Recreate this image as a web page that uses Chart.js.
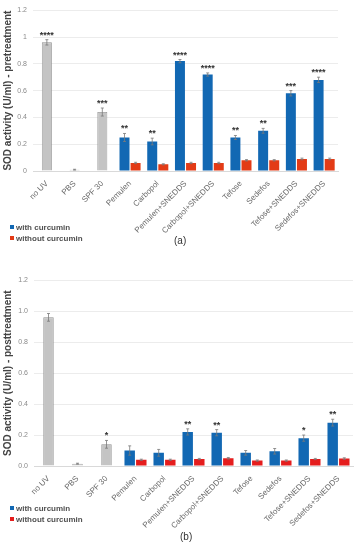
<!DOCTYPE html>
<html>
<head>
    <title>SOD activity</title>
    <script src="https://cdn.jsdelivr.net/npm/chart.js@4.4.1/dist/chart.umd.min.js"></script>
    <style>
        body {
            margin: 0;
            background: #fff;
            font-family: "Liberation Sans", Arial, sans-serif;
        }
        .panel {
            position: absolute;
            left: 0;
            width: 362px;
        }
        .legend {
            position: absolute;
            left: 10px;
            font-size: 8px;
            font-weight: bold;
            color: #505050;
            line-height: 11px;
        }
        .legend span.sq {
            display: inline-block;
            width: 4px;
            height: 4px;
            margin-right: 2px;
            vertical-align: 1px;
        }
        .caption {
            position: absolute;
            font-size: 10px;
            color: #333;
        }
    </style>
</head>
<body>
<div class="panel" style="top:0;height:238px"><canvas id="chartA"></canvas></div>
<div class="legend" style="top:222px">
    <div><span class="sq" style="background:#1268b3"></span>with curcumin</div>
    <div><span class="sq" style="background:#e33b16"></span>without curcumin</div>
</div>
<div class="caption" style="left:174px;top:235px">(a)</div>

<div class="panel" style="top:270px;height:266px"><canvas id="chartB"></canvas></div>
<div class="legend" style="top:503px">
    <div><span class="sq" style="background:#1268b3"></span>with curcumin</div>
    <div><span class="sq" style="background:#e51d1d"></span>without curcumin</div>
</div>
<div class="caption" style="left:180px;top:531px">(b)</div>

<script>
    const categories = ['no UV', 'PBS', 'SPF 30', 'Pemulen', 'Carbopol', 'Pemulen+SNEDDS',
        'Carbopol+SNEDDS', 'Tefose', 'Sedefos', 'Tefose+SNEDDS', 'Sedefos+SNEDDS'];

    // (a) pretreatment
    const preControl = [0.96, 0.01, 0.44, null, null, null, null, null, null, null, null];
    const preControlErr = [0.02, 0.003, 0.03, null, null, null, null, null, null, null, null];
    const preWith = [null, null, null, 0.25, 0.22, 0.82, 0.72, 0.25, 0.30, 0.58, 0.68];
    const preWithErr = [null, null, null, 0.03, 0.025, 0.012, 0.012, 0.015, 0.018, 0.02, 0.02];
    const preWithout = [null, null, null, 0.06, 0.05, 0.06, 0.06, 0.08, 0.08, 0.09, 0.09];
    const preWithoutErr = [null, null, null, 0.005, 0.004, 0.005, 0.005, 0.005, 0.005, 0.006, 0.006];
    const preStars = ['****', '', '***', '**', '**', '****', '****', '**', '**', '***', '****'];
    const preTicks = ['0', '0.2', '0.4', '0.6', '0.8', '1', '1.2'];

    // (b) posttreatment
    const postControl = [0.96, 0.015, 0.14, null, null, null, null, null, null, null, null];
    const postControlErr = [0.025, 0.003, 0.025, null, null, null, null, null, null, null, null];
    const postWith = [null, null, null, 0.10, 0.085, 0.22, 0.215, 0.085, 0.095, 0.18, 0.28];
    const postWithErr = [null, null, null, 0.03, 0.022, 0.02, 0.02, 0.015, 0.018, 0.02, 0.022];
    const postWithout = [null, null, null, 0.04, 0.04, 0.045, 0.05, 0.035, 0.035, 0.045, 0.048];
    const postWithoutErr = [null, null, null, 0.004, 0.004, 0.004, 0.005, 0.004, 0.004, 0.004, 0.005];
    const postStars = ['', '', '*', '', '', '**', '**', '', '', '*', '**'];
    const postTicks = ['0.0', '0.2', '0.4', '0.6', '0.8', '1.0', '1.2'];

    // draws error bars and the significance stars
    const errorBarsPlugin = {
        id: 'errorBars',
        afterDatasetsDraw(chart) {
            const ctx = chart.ctx;
            const yScale = chart.scales.y;
            ctx.save();
            chart.data.datasets.forEach(function (ds, di) {
                const meta = chart.getDatasetMeta(di);
                ds.data.forEach(function (v, i) {
                    if (v === null) return;
                    const bar = meta.data[i];
                    const err = ds.errors[i] || 0;
                    const top = yScale.getPixelForValue(v + err);
                    const bot = yScale.getPixelForValue(v - err);
                    ctx.strokeStyle = '#7a7a7a';
                    ctx.lineWidth = 0.8;
                    ctx.beginPath();
                    ctx.moveTo(bar.x, top);
                    ctx.lineTo(bar.x, bot);
                    ctx.moveTo(bar.x - 1.5, top);
                    ctx.lineTo(bar.x + 1.5, top);
                    ctx.moveTo(bar.x - 1.5, bot);
                    ctx.lineTo(bar.x + 1.5, bot);
                    ctx.stroke();
                    if (ds.stars && ds.stars[i]) {
                        ctx.fillStyle = '#333';
                        ctx.font = 'bold 9px "Liberation Sans", Arial, sans-serif';
                        ctx.textAlign = 'center';
                        ctx.textBaseline = 'alphabetic';
                        ctx.fillText(ds.stars[i], bar.x, top - 2);
                    }
                });
            });
            ctx.restore();
        }
    };

    function makeChart(id, control, controlErr, withC, withErr, withoutC, withoutErr, stars,
                       tickLabels, title, redColor, pad, yWidth, xHeight) {
        return new Chart(id, {
            type: 'bar',
            data: {
                labels: categories,
                datasets: [{
                    label: 'control',
                    data: control,
                    errors: controlErr,
                    stars: stars,
                    backgroundColor: '#c4c4c4',
                    borderColor: '#8f8f8f',
                    borderWidth: 0.8,
                    barPercentage: 0.45
                }, {
                    label: 'with curcumin',
                    data: withC,
                    errors: withErr,
                    stars: stars,
                    backgroundColor: '#1268b3',
                    barPercentage: 0.9
                }, {
                    label: 'without curcumin',
                    data: withoutC,
                    errors: withoutErr,
                    backgroundColor: redColor,
                    barPercentage: 0.9
                }]
            },
            options: {
                responsive: true,
                maintainAspectRatio: false,
                animation: false,
                datasets: { bar: { skipNull: true, categoryPercentage: 0.8 } },
                layout: { padding: pad },
                plugins: {
                    legend: { display: false },
                    tooltip: { enabled: false }
                },
                scales: {
                    x: {
                        grid: { display: false },
                        border: { color: '#d9d9d9' },
                        ticks: {
                            minRotation: 45,
                            maxRotation: 45,
                            color: '#6a6a6a',
                            padding: 0,
                            font: { size: 8, family: '"Liberation Sans", Arial, sans-serif' }
                        },
                        afterFit: function (s) { s.height = xHeight; }
                    },
                    y: {
                        min: 0,
                        max: 1.2,
                        border: { display: false },
                        grid: { color: '#ececec', drawTicks: false },
                        ticks: {
                            stepSize: 0.2,
                            color: '#8a8a8a',
                            padding: 6,
                            font: { size: 7, family: '"Liberation Sans", Arial, sans-serif' },
                            callback: function (v, i) { return tickLabels[i]; }
                        },
                        title: {
                            display: true,
                            text: title,
                            color: '#444',
                            padding: 0,
                            font: { size: 10, weight: 'bold', family: '"Liberation Sans", Arial, sans-serif' }
                        },
                        afterFit: function (s) { s.width = yWidth; }
                    }
                }
            },
            plugins: [errorBarsPlugin]
        });
    }

    makeChart('chartA', preControl, preControlErr, preWith, preWithErr, preWithout, preWithoutErr,
        preStars, preTicks, 'SOD activity (U/ml) - pretreatment', '#e33b16',
        { top: 10, right: 24, bottom: 0, left: 2 }, 31, 67);

    makeChart('chartB', postControl, postControlErr, postWith, postWithErr, postWithout, postWithoutErr,
        postStars, postTicks, 'SOD activity (U/ml) - posttreatment', '#e51d1d',
        { top: 6, right: 9, bottom: 0, left: 2 }, 32, 70);
</script>
</body>
</html>
